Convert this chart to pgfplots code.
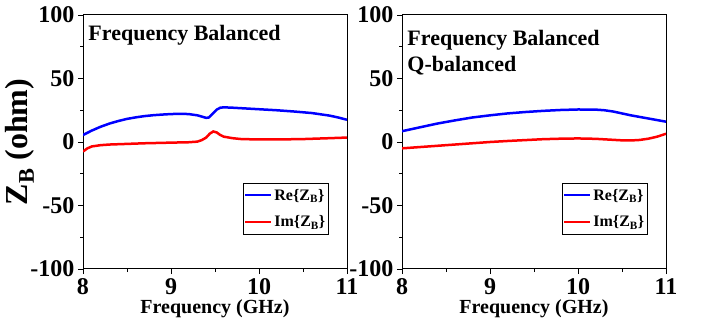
\documentclass[border=0pt]{standalone}
\usepackage{fontspec}
\setmainfont{Liberation Serif}
\usepackage{pgfplots}
\pgfplotsset{compat=1.18}
\definecolor{myblue}{RGB}{0,0,255}
\definecolor{myred}{RGB}{255,0,0}
\pgfplotsset{
  zpanel/.style={
    width=264pt, height=254pt, scale only axis,
    anchor=south west,
    xmin=8, xmax=11, ymin=-100, ymax=100,
    xtick={8,9,10,11}, ytick={-100,-50,0,50,100},
    minor x tick num=1, minor y tick num=1,
    tick align=outside, xtick pos=left, ytick pos=left,
    major tick length=5pt, minor tick length=3pt,
    /pgf/number format/assume math mode=true,
    tick label style={font=\fontsize{24}{24}\selectfont\bfseries},
    xticklabel style={yshift=-1pt},
    axis line style={line width=1pt},
    every tick/.style={line width=0.9pt, black},
    xlabel={Frequency (GHz)},
    xlabel style={font=\fontsize{20}{20}\selectfont\bfseries, yshift=2pt},
    legend style={at={(0.93,0.34)}, anchor=north east, font=\fontsize{16}{16}\selectfont\bfseries,
      draw=black, line width=0.6pt, inner xsep=1pt, inner ysep=4pt, row sep=10pt, cells={anchor=west}},
    legend image code/.code={\draw[#1, line width=2.5pt] (0pt,0pt) -- (26pt,0pt);},
    every axis plot/.append style={line width=2.5pt},
  }
}
\begin{document}
\begin{tikzpicture}[x=1pt,y=1pt]
\useasboundingbox (0,0) rectangle (701,329);
\begin{axis}[zpanel, at={(83pt,60pt)},
  ylabel={Z\textsubscript{B} (ohm)},
  ylabel style={font=\fontsize{32}{32}\selectfont\bfseries, yshift=-11pt}]
\addplot[myblue] coordinates {
(8.0,5.5)(8.1,9)(8.2,12)(8.3,14.5)(8.4,16.5)(8.5,18.2)(8.6,19.4)(8.7,20.4)(8.8,21.1)(8.9,21.6)
(9.0,22.0)(9.1,22.2)(9.2,22.0)(9.3,21.0)(9.35,20.0)(9.4,19.0)(9.43,19.3)(9.47,22)(9.52,25.5)(9.56,27)
(9.6,27.3)(9.7,27.0)(9.8,26.6)(9.9,26.2)(10.0,25.8)(10.2,25.0)(10.4,24.0)(10.6,22.8)(10.8,20.8)(10.9,19.3)(11.0,17.5)};
\addlegendentry{Re\{Z\textsubscript{B}\}}
\addplot[myred] coordinates {
(8.0,-7.5)(8.05,-5)(8.1,-3.5)(8.2,-2.5)(8.3,-2)(8.5,-1.5)(8.7,-1)(9.0,-0.5)(9.2,-0.2)(9.3,0.3)
(9.35,1.5)(9.4,3.5)(9.44,6.5)(9.48,8.3)(9.52,7.5)(9.56,5.5)(9.6,4.2)(9.7,3.0)(9.8,2.3)(10.0,2.0)
(10.2,2.0)(10.5,2.3)(10.8,3.0)(11.0,3.5)};
\addlegendentry{Im\{Z\textsubscript{B}\}}
\node[anchor=north west, font=\fontsize{22}{22}\selectfont\bfseries, inner sep=0pt] at (rel axis cs:0.02,0.96) {Frequency Balanced};
\end{axis}
\begin{axis}[zpanel, at={(402pt,60pt)}]
\addplot[myblue] coordinates {
(8.0,8.5)(8.2,11.5)(8.4,14.5)(8.6,17)(8.8,19.3)(9.0,21.0)(9.2,22.5)(9.4,23.6)(9.6,24.5)(9.8,25.2)
(10.0,25.6)(10.2,25.5)(10.3,25)(10.4,24)(10.5,22.5)(10.6,21)(10.8,18.5)(11.0,16)};
\addlegendentry{Re\{Z\textsubscript{B}\}}
\addplot[myred] coordinates {
(8.0,-5)(8.2,-4)(8.4,-3)(8.6,-2)(8.8,-1)(9.0,0)(9.2,0.8)(9.4,1.5)(9.6,2.2)(9.8,2.6)
(10.0,2.8)(10.2,2.5)(10.4,1.7)(10.5,1.3)(10.6,1.2)(10.7,1.6)(10.8,2.6)(10.9,4.2)(11.0,6.5)};
\addlegendentry{Im\{Z\textsubscript{B}\}}
\node[anchor=north west, align=left, font=\fontsize{22}{26}\selectfont\bfseries, inner sep=0pt] at (rel axis cs:0.02,0.94) {Frequency Balanced\\Q-balanced};
\end{axis}
\end{tikzpicture}
\end{document}
